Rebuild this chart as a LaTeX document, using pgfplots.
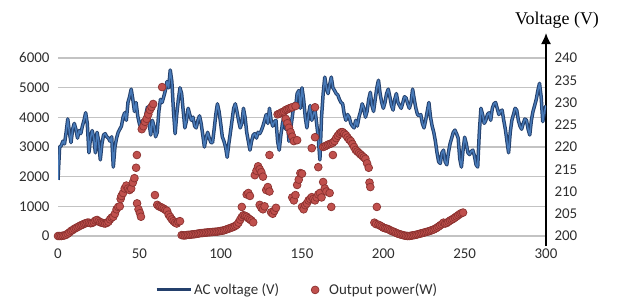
\documentclass[border=0pt]{standalone}
\usepackage{fontspec}
\setmainfont{Carlito}
\newfontfamily\timesf{Liberation Serif}
\usepackage{pgfplots}
\usepackage{pgfplotstable}
\pgfplotsset{compat=1.18}
\usetikzlibrary{arrows.meta}
\definecolor{gridc}{RGB}{195,195,195}
\definecolor{vblue}{RGB}{72,122,184}
\definecolor{vdark}{RGB}{36,64,108}
\definecolor{pred}{RGB}{192,80,77}
\definecolor{pdark}{RGB}{140,50,48}
\pgfplotsset{
  vlegend/.style={legend image code/.code={\draw[##1] (0bp,0bp) -- (34bp,0bp);}},
  plegend/.style={legend image code/.code={\path[draw=none,fill=none] (0bp,0bp) -- (16bp,0bp);\draw[##1] plot coordinates {(4bp,0bp)};}}
}

\pgfplotstableread{
x v
0 212.6
1 220.0
2 220.3
3 221.3
4 220.7
5 223.3
6 226.3
7 223.3
8 221.0
9 224.0
10 225.3
11 224.0
12 222.0
13 223.7
14 223.0
15 224.7
16 226.0
17 227.7
18 225.3
19 218.7
20 222.0
21 223.7
22 222.0
23 218.7
24 223.3
25 221.3
26 217.1
27 220.7
28 222.7
29 223.0
30 222.3
31 222.0
32 221.3
33 222.3
34 215.5
35 220.0
36 222.0
37 223.3
38 224.0
39 224.7
40 226.7
41 227.7
42 226.0
43 230.0
44 231.3
45 233.0
46 230.7
47 228.0
48 230.0
49 227.0
50 225.3
51 224.3
52 226.0
53 224.7
54 227.3
55 229.0
56 225.3
57 222.7
58 226.0
59 224.7
60 222.3
61 223.3
62 228.0
63 230.7
64 230.0
65 231.3
66 232.7
67 234.7
68 233.3
69 237.3
70 234.7
71 228.0
72 223.0
73 227.3
74 230.7
75 233.3
76 232.0
77 228.0
78 224.3
79 226.0
80 228.7
81 227.3
82 226.0
83 226.7
84 224.7
85 224.3
86 226.0
87 227.0
88 225.3
89 222.7
90 220.0
91 222.0
92 223.3
93 222.0
94 221.0
95 221.0
96 224.0
97 227.3
98 229.7
99 228.0
100 225.3
101 222.3
102 221.3
103 220.0
104 217.7
105 220.7
106 223.3
107 226.0
108 228.7
109 229.7
110 228.0
111 226.0
112 224.3
113 225.3
114 228.7
115 226.7
116 223.3
117 221.3
118 219.3
119 221.3
120 222.7
121 223.0
122 222.0
123 223.3
124 223.0
125 223.7
126 224.7
127 226.0
128 227.3
129 225.3
130 228.7
131 226.0
132 224.7
133 225.7
134 226.0
135 221.3
136 219.3
137 222.7
138 225.3
139 227.0
140 224.0
141 226.0
142 221.3
143 224.0
144 226.7
145 229.7
146 228.7
147 232.0
148 232.7
149 228.7
150 233.3
151 230.7
152 226.7
153 224.3
154 227.3
155 229.3
156 226.0
157 227.3
158 228.3
159 225.3
160 222.0
161 217.1
162 226.7
163 232.0
164 235.7
165 233.3
166 232.0
167 234.0
168 235.7
169 233.3
170 232.7
171 232.0
172 231.7
173 230.7
174 230.0
175 229.7
176 227.3
177 226.0
178 227.3
179 226.7
180 225.3
181 224.7
182 224.3
183 226.0
184 224.7
185 226.7
186 228.0
187 229.7
188 228.7
189 226.7
190 228.0
191 230.7
192 232.3
193 229.3
194 228.0
195 230.7
196 233.3
197 235.0
198 232.0
199 230.0
200 228.7
201 230.0
202 232.0
203 233.0
204 231.3
205 229.3
206 228.3
207 230.7
208 232.0
209 230.0
210 229.3
211 228.7
212 230.0
213 231.3
214 231.0
215 229.7
216 228.7
217 230.0
218 233.0
219 230.7
220 228.7
221 227.3
222 227.0
223 227.3
224 225.3
225 224.3
226 226.0
227 228.0
228 230.0
229 226.7
230 224.7
231 223.3
232 221.3
233 218.7
234 216.7
235 216.3
236 218.7
237 219.3
238 216.7
239 216.0
240 218.7
241 220.7
242 222.0
243 223.3
244 223.8
245 223.0
246 222.0
247 217.3
248 215.5
249 219.3
250 222.2
251 220.7
252 218.7
253 218.3
254 219.0
255 219.3
256 218.0
257 216.0
258 215.5
259 223.3
260 228.7
261 227.3
262 225.3
263 226.0
264 227.3
265 227.7
266 226.0
267 228.7
268 229.7
269 230.0
270 228.7
271 227.3
272 228.0
273 228.3
274 226.0
275 224.0
276 221.3
277 218.7
278 223.3
279 226.0
280 227.3
281 228.7
282 228.3
283 226.0
284 224.7
285 224.0
286 225.3
287 226.3
288 226.0
289 224.0
290 222.7
291 226.0
292 228.0
293 229.3
294 230.7
295 232.7
296 234.3
297 231.3
298 225.7
299 228.0
300 229.3
}\volt

\pgfplotstableread{
x p
0 0
1 0
2 0
3 10
4 20
5 40
6 80
7 120
8 170
9 200
10 240
11 270
12 300
13 330
14 360
15 380
16 410
17 430
18 450
19 450
20 430
21 440
22 470
23 520
24 540
25 500
26 460
27 450
28 430
29 420
30 440
31 480
32 560
33 620
34 650
35 750
36 900
37 980
38 1000
38.5 1250
39 1350
40 1450
41 1600
42 1700
43 1600
44 1550
45 1600
46 1800
47 1950
48 2300
48.5 2730
48.6 1100
49.5 900
50.4 770
51 650
51.5 3600
52.5 3700
53.5 3850
54.5 3950
55.5 4100
56.5 4250
57.5 4350
58.5 4450
59.6 1380
61 1050
62 1000
63 980
64 950
64 5020
65 920
66 880
67 850
68 720
69 640
70 560
71 500
72 450
73 420
74 480
75 500
76 30
77 20
78 20
79 30
80 40
81 40
82 50
83 55
84 60
85 70
86 80
87 90
88 100
89 100
90 110
91 115
92 120
93 125
94 130
95 135
96 140
97 145
98 150
99 160
100 170
101 180
102 190
103 210
104 230
105 250
106 270
107 290
108 310
109 340
110 380
111 450
112 550
113 640
113 980
114 700
115 680
116 650
116 1400
117 600
117 1450
118 560
118 1350
119 520
120 460
121 2050
122 2200
123 2350
124 2250
124 1050
125 2150
125 950
126 2000
126 900
127 1000
128 1550
129 1650
130 1500
130 2730
131 800
132 750
133 850
134 950
135 4100
136 4120
137 4150
138 4180
139 4200
140 4250
140 3950
141 4270
141 3800
142 4300
142 3650
143 4320
143 3500
144 4340
144 3350
144 1300
145 3200
145 1200
146 4380
146 1380
147 1720
147 3230
148 1900
149 2120
150 2100
150 980
151 900
152 1040
153 1100
154 1200
155 1250
156 1310
156 2960
157 1250
158 1200
158 3330
158 4340
159 1300
160 1400
160 2320
161 1450
162 1300
163 1820
163 3000
164 3020
164 1600
165 3050
165 1500
166 3080
167 3100
167 1450
168 3120
168 980
169 3150
169 2730
170 3200
171 3300
172 3380
173 3450
174 3500
175 3500
176 3450
177 3400
178 3320
179 3250
180 3200
181 3100
182 3000
183 2900
184 2850
185 2800
186 2750
187 2700
188 2650
189 2600
190 2450
191 2300
191.5 1800
192 1650
196 980
194.5 450
195.5 400
197 380
198 350
199 320
200 280
201 260
202 250
203 230
204 200
205 170
206 150
207 130
208 100
209 80
210 60
211 45
212 30
213 15
214 5
215 0
216 0
217 10
218 20
219 30
220 40
221 55
222 70
223 85
224 100
225 115
226 130
227 145
228 160
229 180
230 200
231 220
232 250
233 280
234 320
235 360
236 400
237 450
238 420
239 440
240 480
241 520
242 550
243 580
244 620
245 660
246 700
247 740
248 770
249 790
}\power

\begin{document}
\begin{tikzpicture}[x=1bp,y=1bp]
\useasboundingbox (0,0) rectangle (617,298);
\pgfplotsset{common/.style={scale only axis, width=488bp, height=178bp,
  at={(58bp,62bp)}, anchor=south west, xmin=0, xmax=300,
  /pgf/number format/assume math mode=true,
  /pgf/number format/set thousands separator={},
  ticklabel style={font=\fontsize{15}{17}\selectfont, text=black!82}}}
% grid, left and bottom ticks
\begin{axis}[common, ymin=0, ymax=6000,
  ytick={0,1000,...,6000}, xtick={0,50,...,300},
  ymajorgrids, major grid style={gridc, line width=1.1bp},
  axis line style={draw=none}, tick style={draw=none},
  yticklabel style={xshift=-5bp}, xticklabel style={yshift=-9bp}]
\addplot[draw=none] coordinates {(0,0)};
\end{axis}
% voltage axis and line
\begin{axis}[common, ymin=200, ymax=240,
  axis x line=none, axis y line*=right,
  ytick={200,205,...,240}, tick style={draw=none},
  y axis line style={line width=1.6bp, black, -{Latex[length=11bp,width=10bp]},
    shorten <=-10bp, shorten >=-25bp},
  yticklabel style={xshift=5bp}]
\addplot[vdark, line width=3.5bp, line join=round] table[x=x,y=v] {\volt};
\addplot[vblue, line width=1.5bp, line join=round] table[x=x,y=v] {\volt};
\end{axis}
% power markers and legend
\begin{axis}[common, ymin=0, ymax=6000, hide axis,
  legend columns=2,
  legend style={draw=none, fill=none, at={(0.49,-0.303)}, anchor=center,
    font=\fontsize{15}{17}\selectfont, text=black!82,
    /tikz/every even column/.append style={column sep=30bp}}]
\addlegendimage{vdark, line width=3bp, vlegend}
\addlegendentry{AC voltage (V)}
\addplot[only marks, mark=*, mark size=3.9bp,
  mark options={fill=pred, draw=pdark, line width=0.7bp}, plegend]
  table[x=x,y=p] {\power};
\addlegendentry{Output power(W)}
\end{axis}
\node[font=\timesf\fontsize{18}{20}\selectfont] at (557,278) {Voltage (V)};
\end{tikzpicture}
\end{document}
